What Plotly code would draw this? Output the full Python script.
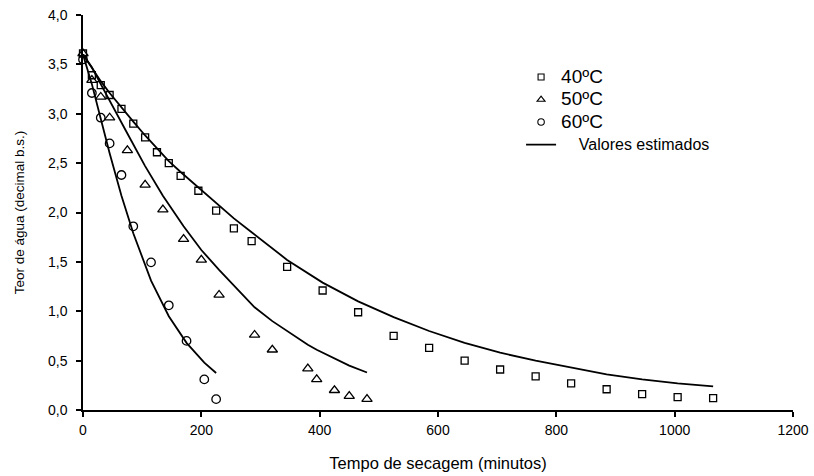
import plotly.graph_objects as go

# Observed data
t40 = [0, 15, 30, 45, 65, 85, 105, 125, 145, 165, 195, 225, 255, 285, 345, 405, 465,
       525, 585, 645, 705, 765, 825, 885, 945, 1005, 1065]
obs40 = [3.61, 3.39, 3.29, 3.19, 3.05, 2.90, 2.76, 2.61, 2.50, 2.37, 2.22, 2.02, 1.84, 1.71,
         1.45, 1.21, 0.99, 0.75, 0.63, 0.50, 0.41, 0.34, 0.27, 0.21, 0.16, 0.13, 0.12]
est40 = [3.60, 3.46, 3.33, 3.21, 3.06, 2.92, 2.78, 2.65, 2.52, 2.41, 2.25, 2.09, 1.94, 1.80,
         1.52, 1.29, 1.10, 0.94, 0.80, 0.68, 0.58, 0.50, 0.43, 0.36, 0.31, 0.27, 0.24]

t50 = [0, 15, 30, 45, 75, 105, 135, 170, 200, 230, 290, 320, 380, 395, 425, 450, 480]
obs50 = [3.61, 3.34, 3.17, 2.96, 2.63, 2.28, 2.03, 1.73, 1.52, 1.165, 0.76, 0.61, 0.42, 0.31,
         0.20, 0.14, 0.11]
est50 = [3.60, 3.47, 3.30, 3.13, 2.80, 2.47, 2.17, 1.86, 1.62, 1.42, 1.04, 0.90, 0.66, 0.61,
         0.52, 0.45, 0.38]

t60 = [0, 15, 30, 45, 65, 85, 115, 145, 175, 205, 225]
obs60 = [3.55, 3.21, 2.96, 2.70, 2.38, 1.86, 1.495, 1.06, 0.70, 0.31, 0.11]
est60 = [3.60, 3.30, 2.95, 2.60, 2.17, 1.79, 1.31, 0.95, 0.68, 0.48, 0.375]

labels = ["40ºC", "50ºC", "60ºC"]
line_label = "Valores estimados"
x_ticks = [0, 200, 400, 600, 800, 1000, 1200]
y_ticks = [0, 0.5, 1.0, 1.5, 2.0, 2.5, 3.0, 3.5, 4.0]

FONT = "Liberation Sans, Arial, sans-serif"
fig = go.Figure()

# estimated curves
for t, e in [(t40, est40), (t50, est50), (t60, est60)]:
    fig.add_trace(go.Scatter(x=t, y=e, mode="lines", showlegend=False,
                             line=dict(color="black", width=1.8), cliponaxis=False))

symbols = ["square-open", "triangle-up-open", "circle-open"]
sizes = [7, 9, 8.5]
for t, o, sym, sz in [(t40, obs40, symbols[0], sizes[0]),
                      (t50, obs50, symbols[1], sizes[1]),
                      (t60, obs60, symbols[2], sizes[2])]:
    fig.add_trace(go.Scatter(x=t, y=o, mode="markers", showlegend=False, cliponaxis=False,
                             marker=dict(symbol=sym, size=sz, color="black",
                                         line=dict(color="black", width=1.3))))

# legend-only entries
leg_sizes = [6, 7, 6.5]
for name, sym, sz in zip(labels, symbols, leg_sizes):
    fig.add_trace(go.Scatter(x=[None], y=[None], mode="markers",
                             name='<span style="font-size:19px">' + name + '</span>',
                             marker=dict(symbol=sym, size=sz, color="black",
                                         line=dict(color="black", width=1.1))))
fig.add_trace(go.Scatter(x=[None], y=[None], mode="lines",
                         name='<span style="font-size:16px">\u00a0\u00a0\u00a0\u00a0' + line_label + '</span>',
                         line=dict(color="black", width=1.8)))

fig.update_layout(
    width=814, height=476,
    margin=dict(l=83, r=21, t=15, b=66),
    paper_bgcolor="white", plot_bgcolor="white",
    separators=",.",
    font=dict(family=FONT, size=14, color="black"),
    showlegend=True,
    legend=dict(x=0.617, y=0.884, xanchor="left", yanchor="top",
                bgcolor="rgba(0,0,0,0)", borderwidth=0,
                font=dict(size=15), itemwidth=30, tracegroupgap=0),
    xaxis=dict(range=[0, 1200], tickvals=x_ticks, showgrid=False, zeroline=False,
               showline=True, linecolor="black", linewidth=1.5, automargin=False,
               ticks="outside", ticklen=5, tickwidth=1.5, tickcolor="black",
               ticklabelstandoff=1,
               title=dict(text="Tempo de secagem (minutos)", font=dict(size=16.5), standoff=21)),
    yaxis=dict(range=[0, 4], tickvals=y_ticks, tickformat=".1f", showgrid=False, zeroline=False,
               showline=True, linecolor="black", linewidth=1.5, automargin=False,
               ticks="outside", ticklen=5, tickwidth=1.5, tickcolor="black",
               ticklabelstandoff=6,
               title=dict(text="Teor de água (decimal b.s.)", font=dict(size=13.5), standoff=20)),
)

fig.write_html("out.html")
